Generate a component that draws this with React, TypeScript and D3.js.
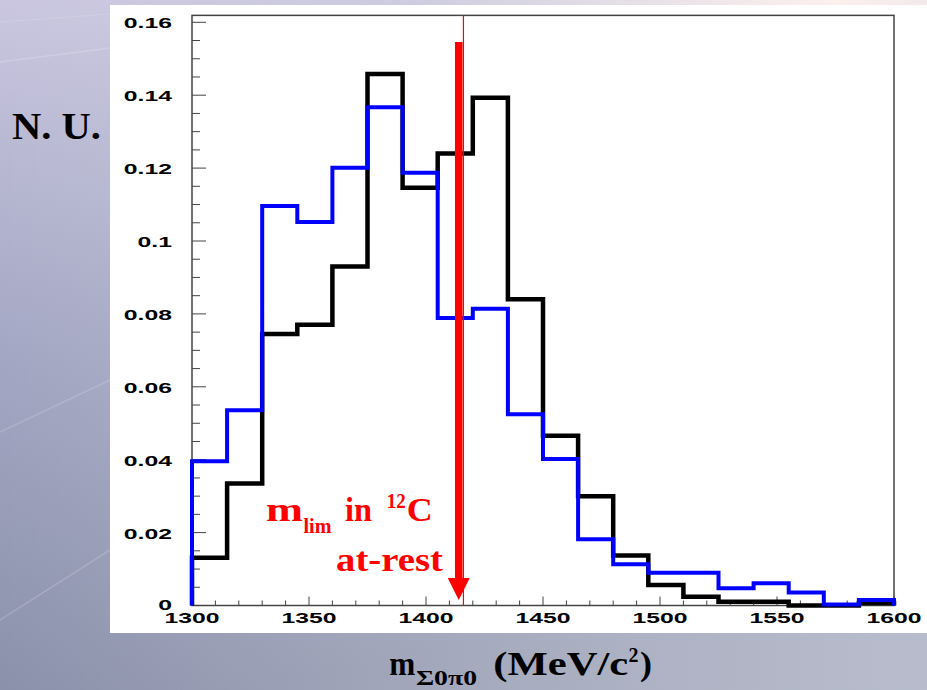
import React from 'react';
import * as d3 from 'd3';

// ---- data ----
const binStart = 1300;
const binWidth = 15;
const blackValues = [0.0131, 0.0335, 0.0745, 0.077, 0.093, 0.1458, 0.1146, 0.124, 0.1393, 0.084,
  0.0466, 0.030, 0.0137, 0.0056, 0.0024, 0.001, 0.001, 0, 0, 0.0007];
const blueValues = [0.0396, 0.0536, 0.1096, 0.1052, 0.1201, 0.1367, 0.1187, 0.0789, 0.0814, 0.0525,
  0.0402, 0.0182, 0.0113, 0.009, 0.009, 0.0047, 0.0061, 0.0036, 0.0003, 0.0015];
const yTickLabels = ['0', '0.02', '0.04', '0.06', '0.08', '0.1', '0.12', '0.14', '0.16'];
const xTickLabels = ['1300', '1350', '1400', '1450', '1500', '1550', '1600'];
const arrowMass = 1414;
const arrowTopValue = 0.1546;
const arrowTipValue = 0.0015;
const limitMass = 1416;

const W = 927;
const H = 690;

export default function App() {
  const x = d3.scaleLinear().domain([1300, 1600]).range([192, 894]);
  const y = d3.scaleLinear().domain([0, 0.16]).range([605.5, 22.3]);
  const yTop = y(0.1619);

  const histPath = (vals: number[]) => {
    const pts: [number, number][] = [[binStart, 0]];
    vals.forEach((v, i) => pts.push([binStart + i * binWidth, v]));
    const end = binStart + vals.length * binWidth;
    pts.push([end, vals[vals.length - 1]]);
    pts.push([end, 0]);
    return d3.line<[number, number]>()
      .x(d => x(d[0]))
      .y(d => y(d[1]))
      .curve(d3.curveStepAfter)(pts) as string;
  };

  const yMinor = d3.range(0, 0.1601, 0.005);
  const xMinor = d3.range(1300, 1600.1, 10);

  const tickFont = { fontFamily: '"Liberation Sans", Arial, sans-serif', fontWeight: 700, fontSize: 15 } as const;
  const serif = '"Liberation Serif", "Times New Roman", serif';

  const ax = x(arrowMass);
  const aTop = y(arrowTopValue);
  const aTip = y(arrowTipValue);
  const headH = 22;
  const headW = 22;

  return (
    <svg width={W} height={H} style={{ position: 'absolute', left: 0, top: 0 }}>
      <defs>
        <linearGradient id="bg1" x1="0" y1="0" x2="0.25" y2="1">
          <stop offset="0" stopColor="#cac6e0" />
          <stop offset="0.5" stopColor="#a2a6c2" />
          <stop offset="1" stopColor="#888ea8" />
        </linearGradient>
        <linearGradient id="bg2" x1="0" y1="0" x2="1" y2="0">
          <stop offset="0" stopColor="#ffffff" stopOpacity="0" />
          <stop offset="1" stopColor="#dfe3ea" stopOpacity="0.55" />
        </linearGradient>
        <radialGradient id="glow" cx="0.9" cy="0" r="0.45">
          <stop offset="0" stopColor="#fff2ee" stopOpacity="0.95" />
          <stop offset="1" stopColor="#fff2ee" stopOpacity="0" />
        </radialGradient>
      </defs>
      <rect x={0} y={0} width={W} height={H} fill="url(#bg1)" />
      <rect x={0} y={0} width={W} height={H} fill="url(#bg2)" />
      <rect x={0} y={0} width={W} height={H} fill="url(#glow)" />
      <line x1={0} y1={432} x2={110} y2={380} stroke="#ffffff" strokeOpacity={0.16} strokeWidth={1.5} />
      <line x1={0} y1={620} x2={110} y2={550} stroke="#ffffff" strokeOpacity={0.16} strokeWidth={1.5} />
      <line x1={0} y1={62} x2={110} y2={48} stroke="#ffffff" strokeOpacity={0.18} strokeWidth={1.5} />
      <line x1={0} y1={22} x2={110} y2={14} stroke="#ffffff" strokeOpacity={0.15} strokeWidth={1.2} />

      {/* white panel */}
      <rect x={110} y={5} width={817} height={628} fill="#ffffff" />

      {/* frame */}
      <rect x={x(1300)} y={yTop} width={x(1600) - x(1300)} height={y(0) - yTop}
        fill="none" stroke="#444" strokeWidth={1.5} />

      {/* y ticks */}
      {yMinor.map((v, i) => (
        <line key={'ym' + i} x1={x(1300)} x2={x(1300) + (i % 4 === 0 ? 14 : 8)}
          y1={y(v)} y2={y(v)} stroke="#444" strokeWidth={1} />
      ))}
      {/* x ticks */}
      {xMinor.map((v, i) => (
        <line key={'xm' + i} x1={x(v)} x2={x(v)} y1={y(0)}
          y2={y(0) - (i % 5 === 0 ? 9 : 5)} stroke="#444" strokeWidth={1} />
      ))}

      {/* y labels */}
      {yTickLabels.map((t) => (
        <text key={'yl' + t} transform={`translate(172,${y(+t) + (t === '0' ? 4 : 6)}) scale(1.65,1)`}
          textAnchor="end" {...tickFont} fill="#000">{t}</text>
      ))}
      {/* x labels */}
      {xTickLabels.map((t) => (
        <text key={'xl' + t} transform={`translate(${x(+t)},623) scale(1.65,1)`}
          textAnchor="middle" {...tickFont} fill="#000">{t}</text>
      ))}

      {/* histograms */}
      <path d={histPath(blackValues)} fill="none" stroke="#000" strokeWidth={4.5} strokeLinejoin="miter" />
      <path d={histPath(blueValues)} fill="none" stroke="#0000ff" strokeWidth={4} strokeLinejoin="miter" />

      {/* limit line and arrow */}
      <line x1={x(limitMass)} x2={x(limitMass)} y1={yTop} y2={y(0)} stroke="#ff0000" strokeWidth={1.2} />
      <rect x={ax - 3.8} y={aTop} width={7.6} height={aTip - headH - aTop + 1} fill="#ff0000" />
      <path d={`M${ax - headW / 2},${aTip - headH} L${ax + headW / 2},${aTip - headH} L${ax},${aTip} Z`} fill="#ff0000" />

      {/* red annotation */}
      <g fill="#ff0000" fontFamily={serif} fontWeight={700}>
        <text x={266} y={520.7} fontSize={34} textLength={37} lengthAdjust="spacingAndGlyphs">m</text>
        <text x={303.5} y={533.3} fontSize={21} textLength={28} lengthAdjust="spacingAndGlyphs">lim</text>
        <text x={345} y={520.7} fontSize={34} textLength={27} lengthAdjust="spacingAndGlyphs">in</text>
        <text x={386.7} y={508.3} fontSize={20} textLength={19} lengthAdjust="spacingAndGlyphs">12</text>
        <text x={406.7} y={520.7} fontSize={34} textLength={26} lengthAdjust="spacingAndGlyphs">C</text>
        <text x={336} y={570.7} fontSize={34} textLength={107} lengthAdjust="spacingAndGlyphs">at-rest</text>
      </g>

      {/* y title */}
      <text x={12} y={139} fontFamily={serif} fontWeight={700} fontSize={38} fill="#000"
        textLength={89} lengthAdjust="spacingAndGlyphs">N. U.</text>

      {/* x title */}
      <g fill="#000" fontFamily={serif} fontWeight={700}>
        <text x={389.3} y={675} fontSize={34} textLength={26} lengthAdjust="spacingAndGlyphs">m</text>
        <text x={416} y={685} fontSize={22} textLength={61} lengthAdjust="spacingAndGlyphs">Σ0π0</text>
        <text x={493.3} y={675} fontSize={34} textLength={135} lengthAdjust="spacingAndGlyphs">(MeV/c</text>
        <text x={628.5} y={661.5} fontSize={20} textLength={10} lengthAdjust="spacingAndGlyphs">2</text>
        <text x={640} y={675} fontSize={34} textLength={12} lengthAdjust="spacingAndGlyphs">)</text>
      </g>
    </svg>
  );
}
